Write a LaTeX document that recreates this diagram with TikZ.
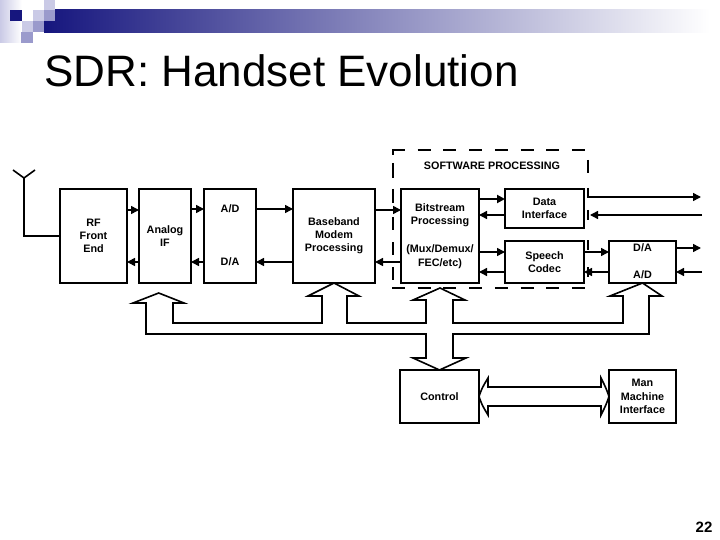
\documentclass[tikz,border=0pt]{standalone}
\usepackage{fontspec}
\setmainfont{Liberation Sans}
\usetikzlibrary{arrows.meta}
\definecolor{navy}{HTML}{16167E}
\definecolor{lav}{HTML}{CACAE6}
\definecolor{mid}{HTML}{9A9ACC}
\tikzset{
  box/.style={draw=black,line width=1.6pt,fill=white,inner sep=0pt,outer sep=0pt,align=center,font=\fontsize{10.8}{13.2}\selectfont\bfseries},
  lbl/.style={inner sep=0pt,align=center,font=\fontsize{10.8}{13.2}\selectfont\bfseries},
  conn/.style={line width=1.5pt,-{Triangle[length=8pt,width=8pt]}},
  bus/.style={draw=black,line width=1.6pt,line join=miter,fill=white},
  dashline/.style={line width=2.2pt},
}
\begin{document}
\begin{tikzpicture}[x=1pt,y=-1pt]
\useasboundingbox[fill=white] (0,0) rectangle (720,540);
% banner
\shade[left color=navy,right color=white] (44,10) rectangle (710,33);
\shade[left color=lav,right color=white] (0,0) rectangle (22,43);
\fill[navy] (10,10) rectangle (22,21);
\fill[lav] (44,0) rectangle (55,10);
\fill[lav] (33,10) rectangle (44,21);
\fill[mid] (44,10) rectangle (55,21);
\fill[lav] (22,21) rectangle (33,32);
\fill[mid] (33,21) rectangle (44,32);
\fill[mid] (21,32) rectangle (33,43);
\node[anchor=base west,inner sep=0pt,font=\fontsize{44}{48}\selectfont] (title) at (44,87) {SDR: Handset Evolution};
\node[anchor=base,inner sep=0pt,font=\fontsize{15}{18}\selectfont\bfseries] (page) at (704,532) {22};
% bus
\coordinate (tipa) at (158.7,293);
\coordinate (tipb) at (440,288);
% dashed region
\draw[dashline,dash pattern=on 13pt off 12.7pt] (392,150) -- (589,150);
\draw[dashline,dash pattern=on 13pt off 12.7pt] (392,288) -- (590,288);
\draw[dashline] (393,150) -- (393,155);
\draw[dashline] (393,163) -- (393,178) (393,189) -- (393,203) (393,217) -- (393,230) (393,242) -- (393,255) (393,267) -- (393,280);
\draw[dashline] (588,160) -- (588,173) (588,188) -- (588,198) (588,210) -- (588,220) (588,240) -- (588,250) (588,267) -- (588,277);
% boxes
\node[box,minimum width=67pt,minimum height=94pt] (rf) at (93.5,236) {RF\\Front\\End};
\node[box,minimum width=52pt,minimum height=94pt] (analog) at (165,236) {Analog\\IF};
\node[box,minimum width=52pt,minimum height=94pt] (ad) at (230,236) {};
\node[box,minimum width=82pt,minimum height=94pt] (base) at (334,236) {Baseband\\Modem\\Processing};
\node[box,minimum width=78pt,minimum height=94pt] (bit) at (440,236) {Bitstream\\Processing\\[15pt](Mux/Demux/\\FEC/etc)};
\node[box,minimum width=79pt,minimum height=39pt] (data) at (544.5,208.5) {Data\\Interface};
\node[box,minimum width=79pt,minimum height=42pt] (speech) at (544.5,262) {Speech\\Codec};
\node[box,minimum width=67pt,minimum height=42pt] (da) at (642.5,262) {};
\node[box,minimum width=79pt,minimum height=53pt] (control) at (439.5,396.5) {Control};
\node[box,minimum width=67pt,minimum height=53pt] (man) at (642.5,396.5) {Man\\Machine\\Interface};
\node[lbl] (adt) at (230,209) {A/D};
\node[lbl] (dat) at (230,262) {D/A};
\node[lbl] (dat2) at (642.5,248) {D/A};
\node[lbl] (adt2) at (642.5,275) {A/D};
\node[lbl] (soft) at (492,166) {SOFTWARE PROCESSING};
% bus outline
\draw[bus] (146,303) -- (146,334) -- (426,334) -- (426,358) -- (413,358) -- (control.north) -- (466,358) -- (453,358) -- (453,334)
  -- (649,334) -- (649,296) -- (662,296) -- (da.south) -- (610,296) -- (623,296) -- (623,323) -- (453,323) -- (453,300) -- (465,300)
  -- (tipb) -- (413,300) -- (426,300) -- (426,323) -- (347,323) -- (347,296) -- (359,296) -- (base.south) -- (308,296) -- (322,296)
  -- (322,323) -- (173,323) -- (173,303) -- (184,303) -- (tipa) -- (133,303) -- cycle;
% control to man
\draw[bus] (control.east) .. controls (482,388) .. (488,378) -- (488,387) -- (601,387) -- (601,378) .. controls (606,388) .. (man.west)
  .. controls (606,405) .. (601,415) -- (601,406) -- (488,406) -- (488,415) .. controls (482,405) .. (control.east);
% antenna
\coordinate (anttop) at (24,178);
\coordinate (antl) at (13,170);
\coordinate (antr) at (35,170);
\draw[line width=1.6pt] (antl) -- (anttop) -- (antr);
\draw[line width=1.6pt] (rf.west) -- (24,236) -- (anttop);
% connectors
\draw[conn] (rf.east |- 0,210) -- (analog.west |- 0,210);
\draw[conn] (analog.west |- 0,262) -- (rf.east |- 0,262);
\draw[conn] (analog.east |- 0,209) -- (ad.west |- 0,209);
\draw[conn] (ad.west |- 0,262) -- (analog.east |- 0,262);
\draw[conn] (ad.east |- 0,209) -- (base.west |- 0,209);
\draw[conn] (base.west |- 0,262) -- (ad.east |- 0,262);
\draw[conn] (base.east |- 0,210) -- (bit.west |- 0,210);
\draw[conn] (bit.west |- 0,262) -- (base.east |- 0,262);
\draw[conn,line width=2.2pt] (bit.east |- 0,199) -- (data.west |- 0,199);
\draw[conn] (data.west |- 0,215) -- (bit.east |- 0,215);
\draw[conn] (bit.east |- 0,252) -- (speech.west |- 0,252);
\draw[conn] (speech.west |- 0,272) -- (bit.east |- 0,272);
\draw[conn] (speech.east |- 0,252) -- (da.west |- 0,252);
\draw[conn] (da.west |- 0,272) -- (speech.east |- 0,272);
\coordinate (o1a) at (588,197); \coordinate (o1b) at (701,197);
\coordinate (o2a) at (702,215); \coordinate (o2b) at (590,215);
\coordinate (o3b) at (701,248);
\coordinate (o4a) at (702,272);
\draw[conn] (o1a) -- (o1b);
\draw[conn] (o2a) -- (o2b);
\draw[conn] (da.east |- o3b) -- (o3b);
\draw[conn] (o4a) -- (da.east |- o4a);
\end{tikzpicture}
\end{document}
